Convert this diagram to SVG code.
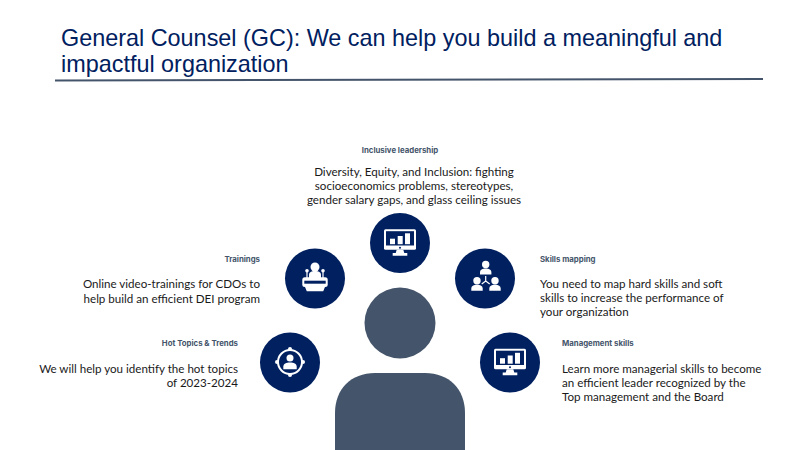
<svg xmlns="http://www.w3.org/2000/svg" width="800" height="450" viewBox="0 0 800 450">
<style>
.title{font-family:"Liberation Sans",Arial,sans-serif;font-size:23.4px;fill:#002060}
.head{font-family:"Inter","Open Sans",sans-serif;font-size:7.8px;font-weight:700;fill:#44546a}
.body{font-family:"Lato","Open Sans",sans-serif;font-size:11.6px;fill:#1a1a1a}
.disc{fill:#002060}
.person{fill:#44546a}
.w{fill:#fff}
.wl{fill:none;stroke:#fff;stroke-width:1.6}
.m{text-anchor:middle}.e{text-anchor:end}
</style>
<defs>
<g id="monitor">
<rect x="-16" y="-13.800" width="32" height="20.600" rx="1.500" class="w"/>
<rect x="-14" y="-11.800" width="28" height="14.300" class="disc"/>
<rect x="-10" y="-4.300" width="5" height="5.500" class="w"/>
<rect x="-2.300" y="-7" width="5" height="8.200" class="w"/>
<rect x="5" y="-9.700" width="5" height="10.900" class="w"/>
<circle cx="0" cy="4.700" r="1" class="disc"/>
<path class="w" d="M-3.300 6.800h6.600l1 3.200h3v2.800h-14.600v-2.800h3z"/>
</g>
<g id="bust">
<circle cx="0" cy="-5" r="3.700" class="w"/>
<path class="w" d="M-5.700 5v-2c0-3 2.500-4 5.700-4s5.700 1 5.700 4v2z"/>
</g>
</defs>
<g id="title">
<text class="title" x="61" y="46">General Counsel (GC): We can help you build a meaningful and</text>
<text class="title" x="61" y="71.500">impactful organization</text>
<path d="M55 80.500L763 79" stroke="#44546a" stroke-width="2" fill="none"/>
</g>
<g id="person">
<circle class="person" cx="400" cy="323" r="35.500"/>
<path class="person" d="M335 450V413c0-24 16-40 40-40h50c24 0 40 16 40 40v37z"/>
</g>
<g id="inclusive-leadership">
<circle class="disc" cx="400" cy="243" r="30"/>
<use href="#monitor" x="400" y="243"/>
<text class="head m" x="400" y="153">Inclusive leadership</text>
<text class="body m" x="414" y="176">Diversity, Equity, and Inclusion: fighting</text>
<text class="body m" x="414" y="190">socioeconomics problems, stereotypes,</text>
<text class="body m" x="414" y="204">gender salary gaps, and glass ceiling issues</text>
</g>
<g id="trainings">
<circle class="disc" cx="315" cy="278.500" r="30"/>
<circle class="w" cx="315" cy="267" r="4.500"/>
<path class="w" d="M309 278v-3c0-3 2.500-4 6-4s6 1 6 4v3z"/>
<circle class="w" cx="307" cy="270.700" r="1.800"/>
<circle class="w" cx="323" cy="270.700" r="1.800"/>
<path d="M307 271v7M323 271v7" stroke="#fff" stroke-width="1.200" fill="none"/>
<rect class="w" x="302.300" y="277.300" width="25.400" height="9.700" rx="2.500"/>
<rect x="304.300" y="280.700" width="21.400" height="3" class="disc"/>
<path class="w" d="M305 287h20l-1.800 4.300h-16.400z"/>
<text class="head e" x="260" y="262">Trainings</text>
<text class="body e" x="260" y="288">Online video-trainings for CDOs to</text>
<text class="body e" x="260" y="303">help build an efficient DEI program</text>
</g>
<g id="skills-mapping">
<circle class="disc" cx="485" cy="278.500" r="30"/>
<use href="#bust" x="485.700" y="269.500"/>
<use href="#bust" x="477" y="285.700"/>
<use href="#bust" x="495" y="285.700"/>
<path d="M485.700 276v5M485.700 281l-4 3M485.700 281l4 3" fill="none" stroke="#fff" stroke-width="1.200"/>
<text class="head" x="540" y="262">Skills mapping</text>
<text class="body" x="540" y="288">You need to map hard skills and soft</text>
<text class="body" x="540" y="302">skills to increase the performance of</text>
<text class="body" x="540" y="316">your organization</text>
</g>
<g id="hot-topics">
<circle class="disc" cx="290" cy="362.500" r="30"/>
<circle class="wl" cx="290" cy="362" r="12" style="stroke-width:2"/>
<circle class="w" cx="290" cy="349" r="2"/>
<circle class="w" cx="290" cy="375" r="2"/>
<circle class="w" cx="277" cy="362" r="2"/>
<circle class="w" cx="303" cy="362" r="2"/>
<circle class="w" cx="290" cy="358" r="3.500"/>
<path class="w" d="M283.300 369.300v-2.500c0-3 3-4.300 6.700-4.300s6.700 1.300 6.700 4.300v2.500z"/>
<text class="head e" x="238" y="346">Hot Topics &amp; Trends</text>
<text class="body e" x="238" y="373">We will help you identify the hot topics</text>
<text class="body e" x="238" y="387">of 2023-2024</text>
</g>
<g id="management-skills">
<circle class="disc" cx="510" cy="362.500" r="30"/>
<use href="#monitor" x="510" y="362.500"/>
<text class="head" x="562" y="346">Management skills</text>
<text class="body" x="562" y="373">Learn more managerial skills to become</text>
<text class="body" x="562" y="387">an efficient leader recognized by the</text>
<text class="body" x="562" y="401">Top management and the Board</text>
</g>
<g id="connectors"></g>
</svg>
